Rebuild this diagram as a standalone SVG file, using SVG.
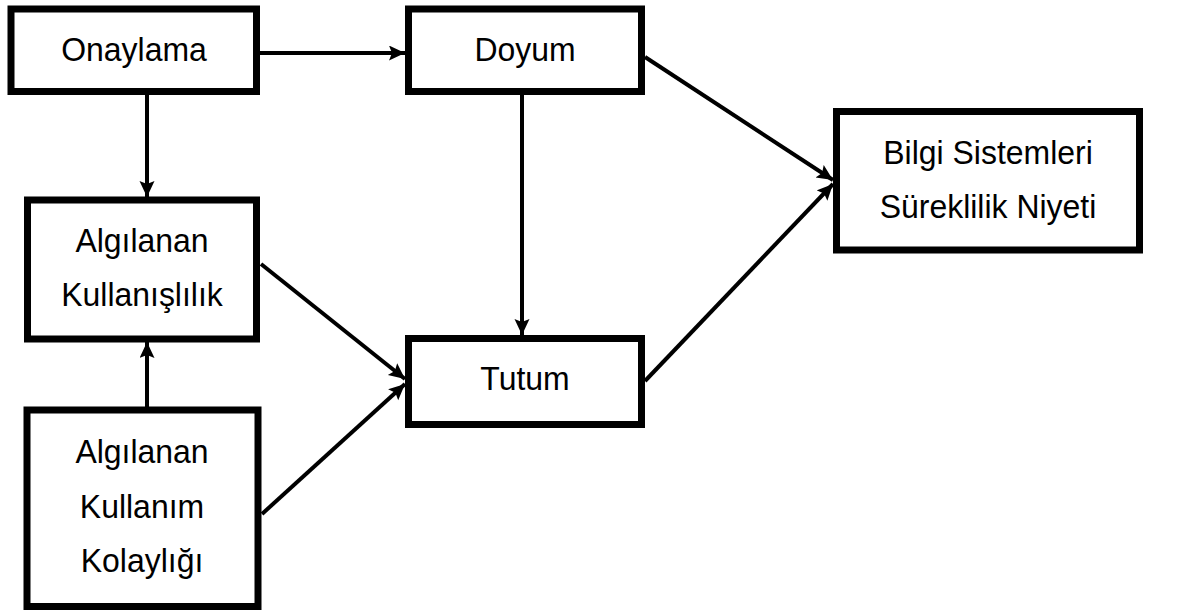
<svg xmlns="http://www.w3.org/2000/svg" width="1178" height="612" viewBox="0 0 1178 612">
<style>
.box{fill:#fff;stroke:#000;stroke-width:7}
.lbl{font-family:"Liberation Sans",Arial,sans-serif;font-size:34px;fill:#000;text-anchor:middle}
.conn{stroke:#000;stroke-width:4;fill:none;marker-end:url(#arr)}
</style>
<defs>
<marker id="arr" markerUnits="userSpaceOnUse" markerWidth="17" markerHeight="16" refX="16" refY="7.5" orient="auto">
<path d="M0,0 L16,7.5 L0,15 L3,7.5 z" fill="#000"/>
</marker>
</defs>
<rect width="1178" height="612" fill="#fff"/>
<g id="connectors">
<line class="conn" x1="260" y1="53" x2="405" y2="53"/>
<line class="conn" x1="147" y1="95" x2="147" y2="197"/>
<line class="conn" x1="147" y1="407" x2="147" y2="342"/>
<line class="conn" x1="522" y1="95" x2="522" y2="335"/>
<line class="conn" x1="645" y1="57" x2="833" y2="180"/>
<line class="conn" x1="645" y1="381" x2="833" y2="184"/>
<line class="conn" x1="261" y1="264" x2="405" y2="379"/>
<line class="conn" x1="262" y1="514" x2="405" y2="384"/>
</g>
<g id="onaylama">
<rect class="box" x="11" y="9" width="245.5" height="82.5"/>
<text class="lbl" transform="translate(134,61) scale(0.94,1)">Onaylama</text>
</g>
<g id="doyum">
<rect class="box" x="408.5" y="9" width="233" height="82.5"/>
<text class="lbl" transform="translate(525,61) scale(0.94,1)">Doyum</text>
</g>
<g id="bilgi">
<rect class="box" x="836.5" y="111.5" width="303" height="138.5"/>
<text class="lbl" transform="translate(988,164) scale(0.94,1)">Bilgi Sistemleri</text>
<text class="lbl" transform="translate(988,218) scale(0.94,1)">Süreklilik Niyeti</text>
</g>
<g id="kullanislilik">
<rect class="box" x="27.5" y="200" width="229" height="139"/>
<text class="lbl" transform="translate(142,252) scale(0.94,1)">Algılanan</text>
<text class="lbl" transform="translate(142,306) scale(0.94,1)">Kullanışlılık</text>
</g>
<g id="tutum">
<rect class="box" x="408.5" y="338.5" width="233" height="86"/>
<text class="lbl" transform="translate(525,390) scale(0.94,1)">Tutum</text>
</g>
<g id="kolaylik">
<rect class="box" x="27" y="410" width="231" height="196.5"/>
<text class="lbl" transform="translate(142,463) scale(0.94,1)">Algılanan</text>
<text class="lbl" transform="translate(142,518) scale(0.94,1)">Kullanım</text>
<text class="lbl" transform="translate(142,572) scale(0.94,1)">Kolaylığı</text>
</g>
</svg>
